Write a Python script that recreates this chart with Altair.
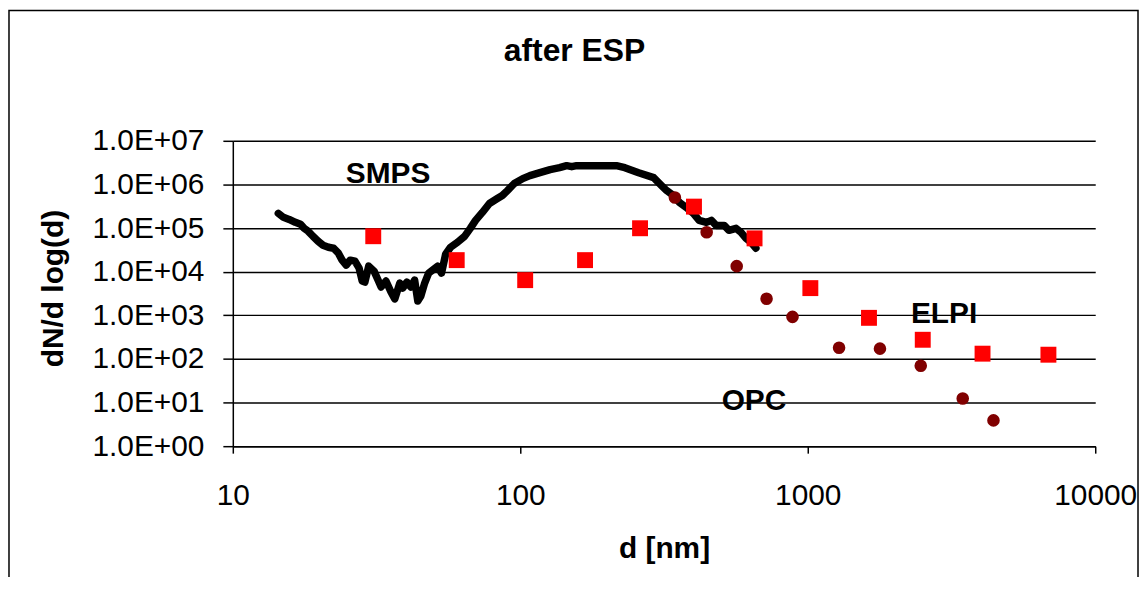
import altair as alt
import pandas as pd

# ---- data ----
smps_d = [14.4, 15.0, 15.7, 16.5, 17.2, 17.7, 18.3, 19.0, 19.8, 20.6,
          21.5, 22.4, 23.3, 24.0, 24.8, 25.6, 26.6, 27.5, 28.2, 28.8,
          29.7, 31.0, 32.0, 32.8, 34.1, 35.5, 36.6, 38.1, 39.0, 40.3,
          41.6, 42.9, 44.0, 45.1, 46.5, 48.0, 50.0, 51.6, 53.2, 55.0,
          57.2, 60.5, 64.0, 67.0, 69.9, 73.8, 78.1, 83.2, 86.6, 90.2,
          95.3, 102, 108, 117, 127, 137, 145, 151, 157, 216,
          231, 258, 291, 310, 323, 341, 358, 378, 400, 419,
          444, 462, 480, 512, 532, 563, 586, 610, 635, 660]
smps_n = [2.17e5, 1.76e5, 1.58e5, 1.35e5, 1.22e5, 9.85e4, 8.41e4, 6.47e4, 4.98e4, 4.04e4,
          3.63e4, 3.45e4, 2.65e4, 1.84e4, 1.41e4, 1.84e4, 1.74e4, 1.21e4, 6.10e3, 5.78e3,
          1.34e4, 1.03e4, 6.43e3, 4.45e3, 6.10e3, 3.42e3, 2.37e3, 5.49e3, 4.22e3, 5.78e3,
          4.45e3, 6.43e3, 2.13e3, 2.77e3, 5.49e3, 9.28e3, 1.14e4, 1.34e4, 9.28e3, 2.52e4,
          3.63e4, 4.72e4, 6.47e4, 9.85e4, 1.50e5, 2.28e5, 3.66e5, 4.75e5, 5.57e5, 7.24e5,
          1.05e6, 1.36e6, 1.59e6, 1.86e6, 2.18e6, 2.42e6, 2.69e6, 2.55e6, 2.69e6, 2.69e6,
          2.42e6, 1.86e6, 1.43e6, 9.42e5, 7.24e5, 5.57e5, 3.86e5, 2.97e5, 2.17e5, 1.50e5,
          1.35e5, 1.50e5, 1.15e5, 1.15e5, 8.87e4, 9.85e4, 7.99e4, 5.83e4, 4.72e4, 3.45e4]

elpi_d = [30.8, 60.1, 104, 168, 261, 402, 653, 1021, 1633, 2512, 4055, 6873]
elpi_n = [6.5e4, 1.84e4, 6.4e3, 1.84e4, 9.9e4, 3.1e5, 5.8e4, 4.2e3, 875, 275, 132, 125]

opc_d = [345, 445, 566, 719, 885, 1285, 1783, 2472, 3460, 4426]
opc_n = [5.0e5, 8.0e4, 1.34e4, 2.4e3, 920, 181, 172, 70, 12.4, 3.9]

label_text = ["SMPS", "ELPI", "OPC"]
label_d = [34.7, 2979, 650]
label_n = [1.77e6, 1079, 10.6]

x_ticks = [10, 100, 1000, 10000]
y_ticks = [1, 10, 100, 1e3, 1e4, 1e5, 1e6, 1e7]

FONT = "Liberation Sans"

smps_df = pd.DataFrame({"d": smps_d, "n": smps_n})
elpi_df = pd.DataFrame({"d": elpi_d, "n": elpi_n})
opc_df = pd.DataFrame({"d": opc_d, "n": opc_n})
lab_df = pd.DataFrame({"d": label_d, "n": label_n, "t": label_text})

xs = alt.Scale(type="log", domain=[10, 10000])
ys = alt.Scale(type="log", domain=[1, 1e7])

x_axis = alt.Axis(values=x_ticks, format="d", grid=False, title="d [nm]",
                  tickSize=7, labelPadding=52, labelBaseline="alphabetic",
                  titleY=112, titleBaseline="alphabetic")
y_axis = alt.Axis(values=y_ticks,
                  labelExpr="'1.0E+0' + format(log(datum.value)/LN10, '.0f')",
                  grid=True, title="dN/d log(d)", tickSize=10, labelPadding=19,
                  titleX=-171, titleY=148, titleAngle=270,
                  titleBaseline="alphabetic", titleAlign="center")

X = alt.X("d:Q", scale=xs, axis=x_axis)
Y = alt.Y("n:Q", scale=ys, axis=y_axis)

frame = alt.Chart(alt.Data(values=[{}])).mark_rect(
    fill="white", fillOpacity=0, stroke="black", strokeWidth=1.5
).encode(x=alt.value(-225), x2=alt.value(910), y=alt.value(-131), y2=alt.value(600))

line = alt.Chart(smps_df).mark_line(
    color="black", strokeWidth=7.5, strokeCap="round", strokeJoin="round"
).encode(x=X, y=Y)

opc = alt.Chart(opc_df).mark_point(
    shape="circle", filled=True, size=160, color="#800000", opacity=1
).encode(x=X, y=Y)

elpi = alt.Chart(elpi_df).mark_point(
    shape="square", filled=True, size=256, color="#ff0000", opacity=1
).encode(x=X, y=Y)

labels = alt.Chart(lab_df).mark_text(
    font=FONT, fontSize=30, fontWeight="bold", color="black",
    align="center", baseline="middle"
).encode(x=X, y=Y, text="t:N")

chart = alt.layer(frame, line, opc, elpi, labels).properties(
    width=867, height=307,
    title=alt.TitleParams("after ESP", font=FONT, fontSize=32, fontWeight="bold",
                          color="black", anchor="middle", frame="group",
                          offset=0, dy=84, baseline="alphabetic", dx=-90),
    autosize=alt.AutoSizeParams(type="none"),
    padding={"left": 226, "top": 132, "right": 44, "bottom": 130},
).configure_view(stroke=None).configure_axis(
    labelFont=FONT, labelFontSize=30, labelColor="black",
    titleFont=FONT, titleFontSize=30, titleFontWeight="bold", titleColor="black",
    domainColor="black", domainWidth=1.5, tickColor="black", tickWidth=1.5,
    gridColor="black", gridWidth=1.5, gridOpacity=1,
    labelFlush=False, labelOverlap=False
)

chart.save("out.html", embed_options={"renderer": "svg", "actions": False})
